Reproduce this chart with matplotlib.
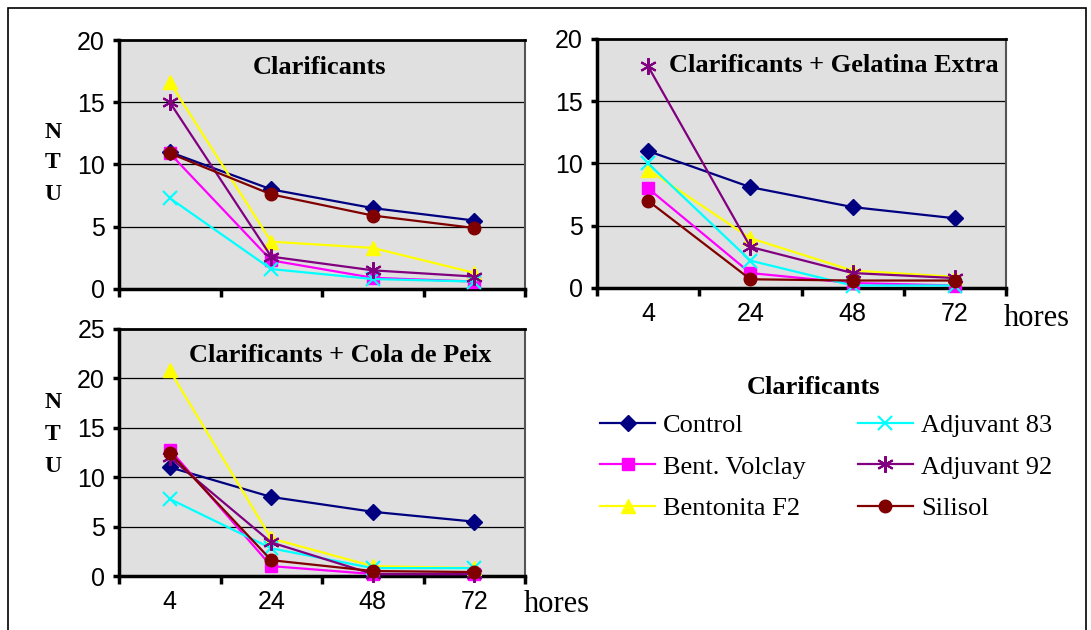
import matplotlib
matplotlib.use("Agg")
import matplotlib.pyplot as plt
from matplotlib.lines import Line2D
from matplotlib.patches import Rectangle

W, H = 1091, 630
hours = ["4", "24", "48", "72"]
series_names = ["Control", "Bent. Volclay", "Bentonita F2", "Adjuvant 83", "Adjuvant 92", "Silisol"]

clar = {
    "Control":       [11.0, 8.0, 6.5, 5.5],
    "Bent. Volclay": [10.9, 2.3, 0.9, 0.6],
    "Bentonita F2":  [16.6, 3.8, 3.3, 1.3],
    "Adjuvant 83":   [7.3, 1.6, 0.8, 0.6],
    "Adjuvant 92":   [15.0, 2.6, 1.5, 1.0],
    "Silisol":       [10.9, 7.6, 5.9, 4.9],
}
gelatina = {
    "Control":       [11.0, 8.1, 6.5, 5.6],
    "Bent. Volclay": [8.0, 1.2, 0.4, 0.2],
    "Bentonita F2":  [9.5, 4.0, 1.4, 0.9],
    "Adjuvant 83":   [10.0, 2.2, 0.2, 0.2],
    "Adjuvant 92":   [17.8, 3.3, 1.2, 0.8],
    "Silisol":       [7.0, 0.7, 0.6, 0.6],
}
cola = {
    "Control":       [11.0, 8.0, 6.5, 5.5],
    "Bent. Volclay": [12.8, 1.0, 0.2, 0.2],
    "Bentonita F2":  [20.8, 3.8, 1.0, 0.8],
    "Adjuvant 83":   [7.8, 2.8, 0.8, 0.8],
    "Adjuvant 92":   [12.0, 3.4, 0.2, 0.2],
    "Silisol":       [12.5, 1.6, 0.5, 0.4],
}

styles = {
    "Control":       dict(color="#000080", marker="D", ms=8),
    "Bent. Volclay": dict(color="#FF00FF", marker="s", ms=8),
    "Bentonita F2":  dict(color="#FFFF00", marker="^", ms=10),
    "Adjuvant 83":   dict(color="#00FFFF", marker="x", ms=10, mew=1.5),
    "Adjuvant 92":   dict(color="#800080", marker=(6, 2, 0), ms=12, mew=1.5),
    "Silisol":       dict(color="#800000", marker="o", ms=9),
}

SERIF = ["Liberation Serif", "DejaVu Serif"]
SANS = ["Liberation Sans", "DejaVu Sans"]

fig = plt.figure(figsize=(W / 100, H / 100), dpi=100)


def fx(x):
    return x / W


def fy(y):
    return 1 - y / H


def make_ax(left, top, right, bottom, data, ymax, title, tcx, tcy, xlabels, hores_pos):
    ax = fig.add_axes([fx(left), fy(bottom), fx(right) - fx(left), (bottom - top) / H])
    ax.set_facecolor("#E0E0E0")
    x = list(range(len(hours)))
    for name in series_names:
        st = styles[name]
        ax.plot(x, data[name], color=st["color"], lw=1.6, marker=st["marker"],
                ms=st["ms"], mew=st.get("mew", 1), mfc=st["color"], mec=st["color"],
                clip_on=False, zorder=3)
    ax.set_xlim(-0.5, len(hours) - 0.5)
    ax.set_ylim(0, ymax)
    ax.set_yticks(range(0, ymax + 1, 5))
    for v in range(5, ymax, 5):
        ax.axhline(v, color="black", lw=0.9, zorder=1)
    ax.set_xticks([i - 0.5 for i in range(len(hours) + 1)])
    ax.set_xticklabels([])
    ax.set_xticks(x, minor=True)
    if xlabels:
        ax.set_xticklabels(hours, minor=True, fontsize=18, family=SANS)
    ax.tick_params(axis="x", which="minor", length=0, pad=10)
    ax.tick_params(axis="x", which="major", length=6, width=2.5, direction="out")
    ax.tick_params(axis="y", length=4, width=2.5, direction="out", pad=6, labelsize=18)
    for lbl in ax.get_yticklabels():
        lbl.set_family(SANS)
    ax.spines["left"].set_linewidth(2.5)
    ax.spines["bottom"].set_linewidth(2.5)
    ax.spines["top"].set_linewidth(2.0)
    ax.spines["right"].set_linewidth(1.5)
    ax.spines["right"].set_color("#555555")
    fig.text(fx(tcx), fy(tcy), title, ha="center", va="center", fontsize=19,
             fontweight="bold", family=SERIF)
    if hores_pos:
        fig.text(fx(hores_pos[0]), fy(hores_pos[1]), "hores", ha="left", va="center",
                 fontsize=22, family=SERIF)
    return ax


make_ax(119, 40, 525, 289, clar, 20, "Clarificants", 320, 67, False, None)
make_ax(597, 39, 1006, 288, gelatina, 20, "Clarificants + Gelatina Extra", 834, 65, True, (1004, 318))
make_ax(119, 329, 525, 576, cola, 25, "Clarificants + Cola de Peix", 340, 355, True, (524, 605))

for (yy, ch) in [(132, "N"), (163, "T"), (195, "U"), (403, "N"), (435, "T"), (467, "U")]:
    fig.text(fx(53), fy(yy), ch, ha="center", va="center", fontsize=17,
             fontweight="bold", family=SERIF)

# legend
fig.text(fx(813), fy(387), "Clarificants", ha="center", va="center", fontsize=19,
         fontweight="bold", family=SERIF)
handles = []
for name in series_names:
    st = styles[name]
    handles.append(Line2D([], [], color=st["color"], lw=1.6, marker=st["marker"],
                          ms=st["ms"], mew=st.get("mew", 1), mfc=st["color"], mec=st["color"]))
fig.legend(handles, series_names, loc="upper left", bbox_to_anchor=(fx(600), fy(414)),
           ncol=2, frameon=False, prop={"family": SERIF, "size": 19},
           handlelength=2.1, handletextpad=0.3, columnspacing=1.95, labelspacing=0.67,
           borderpad=0, borderaxespad=0)

# outer frame
fig.patches.append(Rectangle((fx(8), fy(640)), fx(1086) - fx(8), fy(8) - fy(640),
                             transform=fig.transFigure, fill=False, ec="black", lw=1.2))

fig.savefig("out.png", dpi=100)
